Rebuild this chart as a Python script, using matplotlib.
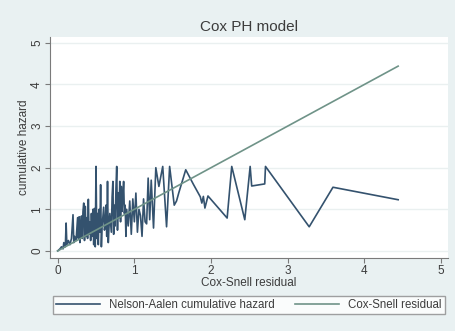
import matplotlib
matplotlib.use('Agg')
import matplotlib.pyplot as plt

plt.rcParams['font.family'] = ['Liberation Sans', 'DejaVu Sans']

# Nelson-Aalen cumulative hazard against Cox-Snell residual
na_x = [0.00, 0.03, 0.05, 0.07, 0.08, 0.10, 0.11, 0.12, 0.14, 0.16,
        0.18, 0.20, 0.21, 0.22, 0.24, 0.26, 0.27, 0.28, 0.29, 0.30,
        0.31, 0.32, 0.33, 0.34, 0.35, 0.36, 0.37, 0.38, 0.39, 0.40,
        0.41, 0.42, 0.43, 0.44, 0.45, 0.46, 0.47, 0.48, 0.49, 0.50,
        0.51, 0.52, 0.53, 0.54, 0.55, 0.56, 0.57, 0.58, 0.60, 0.61,
        0.62, 0.63, 0.64, 0.65, 0.66, 0.67, 0.68, 0.70, 0.71, 0.72,
        0.73, 0.74, 0.75, 0.76, 0.77, 0.78, 0.79, 0.80, 0.81, 0.82,
        0.83, 0.84, 0.85, 0.86, 0.87, 0.88, 0.89, 0.90, 0.92, 0.94,
        0.96, 0.98, 1.00, 1.02, 1.04, 1.06, 1.08, 1.10, 1.12, 1.14,
        1.16, 1.18, 1.20, 1.22, 1.25, 1.28, 1.32, 1.37, 1.42, 1.46,
        1.52, 1.55, 1.58, 1.67, 1.77, 1.86, 1.88, 1.90, 1.92, 1.96,
        2.21, 2.27, 2.44, 2.51, 2.53, 2.70, 2.71, 3.28, 3.59, 4.44]
na_y = [0.00, 0.05, 0.10, 0.05, 0.20, 0.10, 0.67, 0.15, 0.25, 0.15,
        0.30, 0.87, 0.20, 0.35, 0.25, 0.80, 0.30, 0.82, 0.20, 0.55,
        0.84, 0.30, 0.95, 1.15, 0.25, 1.07, 0.35, 0.80, 0.30, 1.24,
        0.40, 0.70, 0.25, 0.90, 0.35, 1.00, 0.15, 1.02, 0.10, 2.03,
        0.30, 0.90, 0.15, 1.00, 0.45, 1.59, 0.10, 0.60, 1.05, 0.50,
        0.60, 1.10, 0.35, 1.67, 0.20, 0.60, 0.90, 0.45, 1.30, 1.67,
        0.40, 1.10, 0.60, 1.50, 2.03, 0.50, 1.40, 0.80, 1.67, 0.70,
        1.55, 0.95, 1.30, 1.67, 0.90, 1.10, 0.35, 1.00, 0.60, 1.20,
        0.40, 1.25, 0.70, 1.39, 0.45, 1.00, 0.85, 0.35, 1.25, 0.70,
        0.65, 1.75, 0.75, 1.70, 0.55, 2.00, 1.55, 2.03, 0.58, 2.03,
        1.10, 1.20, 1.40, 1.95, 1.60, 1.30, 1.15, 1.31, 1.03, 1.32,
        0.79, 2.03, 0.75, 2.03, 1.56, 1.61, 2.03, 0.58, 1.53, 1.23]

# reference line: Cox-Snell residual against itself
cs_x = [0.0, 4.44]
cs_y = [0.0, 4.44]

bg = '#e9f1f2'
txt = '#3c3c3c'

fig = plt.figure(figsize=(4.55, 3.31), dpi=100, facecolor=bg)
ax = fig.add_axes([50 / 455, 73 / 331, 398 / 455, 221 / 331])
ax.set_facecolor('white')

l1, = ax.plot(na_x, na_y, color='#34526e', lw=1.2, label='Nelson-Aalen cumulative hazard')
l2, = ax.plot(cs_x, cs_y, color='#6f9388', lw=1.2, label='Cox-Snell residual')

ax.set_xlim(-0.1, 5.09)
ax.set_ylim(-0.17, 5.14)
ax.set_xticks([0, 1, 2, 3, 4, 5])
ax.set_yticks([0, 1, 2, 3, 4, 5])
ax.grid(axis='y', color='#eaf0f0', lw=1.0)
ax.set_axisbelow(True)

for s in ['top', 'right']:
    ax.spines[s].set_visible(False)
for s in ['left', 'bottom']:
    ax.spines[s].set_color('#7a7a7a')
    ax.spines[s].set_linewidth(0.8)
ax.tick_params(colors='#7a7a7a', labelcolor=txt, labelsize=8.5, length=3.5, width=0.8, pad=1.5)
plt.setp(ax.get_yticklabels(), rotation=90, va='center')

ax.set_xlabel('Cox-Snell residual', fontsize=8.5, color=txt, labelpad=0)
ax.set_ylabel('cumulative hazard', fontsize=8.5, color=txt, labelpad=1)
ax.set_title('Cox PH model', fontsize=11, color=txt, pad=4)

leg = fig.legend(handles=[l1, l2], loc='center', ncol=2, mode='expand',
                 bbox_to_anchor=(53 / 455, 16 / 331, 392 / 455, 20 / 331),
                 fontsize=8.3, frameon=True, fancybox=False, handlelength=3.8,
                 borderaxespad=0, borderpad=0.3, columnspacing=3.0)
leg.get_frame().set_edgecolor('#8a8a8a')
leg.get_frame().set_linewidth(1.0)
for t in leg.get_texts():
    t.set_color(txt)

fig.savefig('out.png', dpi=100, facecolor=bg)
